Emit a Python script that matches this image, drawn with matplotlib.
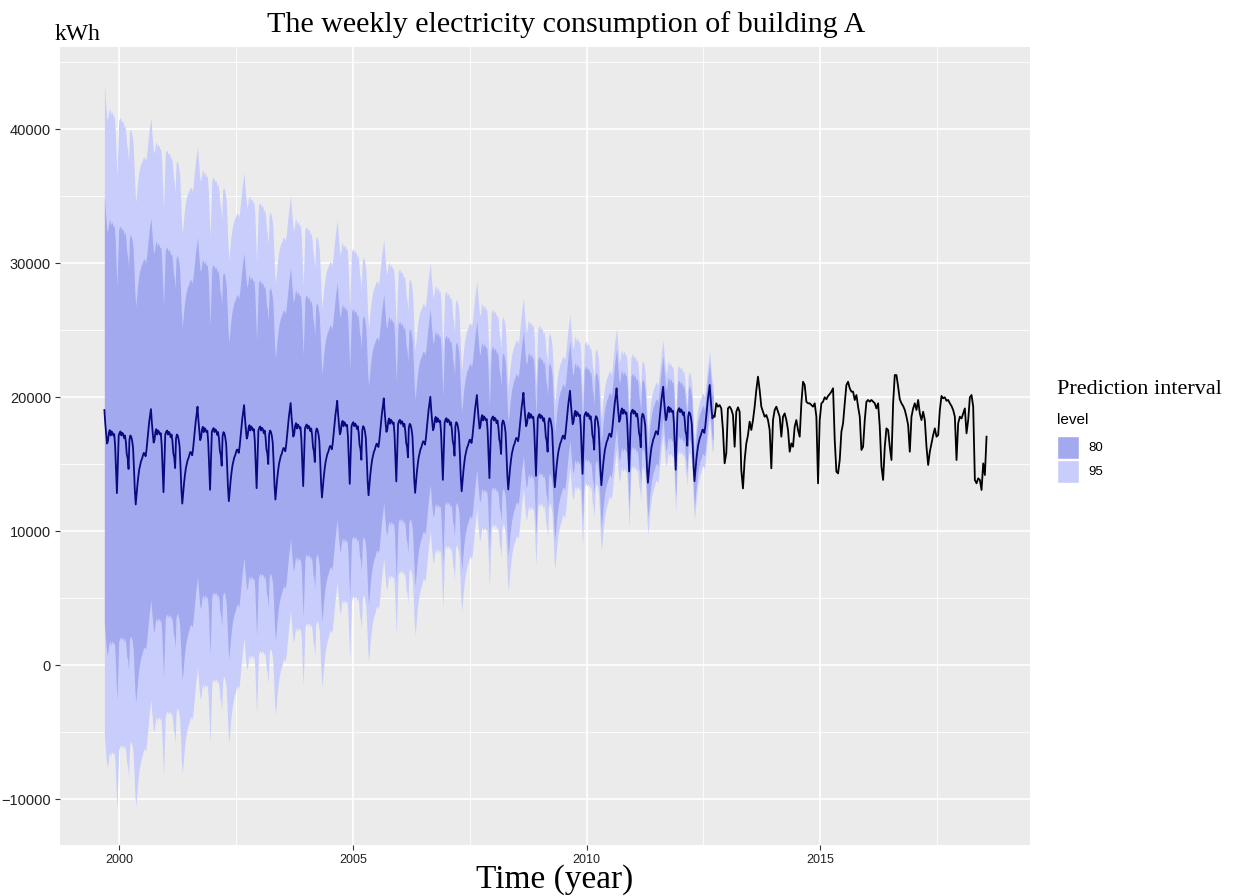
import numpy as np
import matplotlib.pyplot as plt
from matplotlib.patches import Rectangle

plt.rcParams['font.family'] = ['Liberation Sans', 'DejaVu Sans']
SERIF = ['Liberation Serif', 'DejaVu Serif']

# backcast: weekly seasonal shape of one year, kWh relative to the cycle's peak week
season_rel = [0, -1000, -1800, -2500, -2300, -1700, -1500, -1900, -1600, -1700,
              -1900, -1800, -2700, -4500, -6200, -4000, -1900, -1700, -1600, -1900,
              -1700, -1800, -2100, -1900, -2400, -3300, -3600, -4400, -2200, -1900,
              -2000, -2300, -2800, -4300, -6000, -7050, -6300, -5500, -4900, -4400,
              -4100, -3800, -3650, -3400, -3200, -3250, -3450, -3000, -2300, -1600,
              -900, -400]
# peak week level of each yearly cycle (kWh), 1999.7 -> 2012.7
cycle_peak = [19030, 19100, 19280, 19400, 19550, 19720, 19900,
              20020, 20150, 20320, 20470, 20650, 20770, 20900]
fc_start = 1999.68
fc_weeks = 681

# half-width of the prediction intervals (kWh)
w_year = [1999.68, 2000.64, 2001.64, 2002.64, 2003.60, 2004.60, 2005.60,
          2006.65, 2007.65, 2008.65, 2009.65, 2010.65, 2011.65, 2012.71]
w95 = [24300, 21800, 19500, 17400, 15600, 13600, 12000,
       10000, 8500, 7100, 5700, 4500, 3500, 2500]
w80 = [15900, 14300, 12700, 11400, 10200, 8900, 7850,
       6550, 5550, 4650, 3700, 2950, 2300, 1650]

# observed weekly consumption (kWh), roughly every second week
obs_start, obs_end = 2012.74, 2018.56
observed = [18530, 19530, 19280, 19400, 19150, 17540, 15050, 15800, 19150, 19280,
            19080, 18660, 16290, 18900, 19230, 18900, 14550, 13180, 15300, 16540,
            17160, 18160, 17540, 18280, 19280, 20520, 21520, 20520, 19280, 18900,
            18530, 18660, 18280, 17540, 14680, 18280, 19030, 19280, 18900, 18530,
            17040, 18530, 18780, 18280, 17540, 15920, 16540, 16290, 17790, 18280,
            17540, 17040, 19530, 21140, 20900, 19650, 19530, 19530, 19400, 19280,
            19530, 18530, 13560, 18280, 19530, 19650, 19980, 19830, 20080, 20220,
            20400, 20650, 16790, 14430, 14300, 15300, 17410, 18040, 19530, 20900,
            21140, 20650, 20400, 20400, 19780, 20150, 19280, 18530, 16050, 16290,
            18280, 19650, 19780, 19650, 19780, 19650, 19530, 19150, 19530, 17790,
            14800, 13810, 16290, 17660, 17540, 16290, 15300, 19530, 21640, 21640,
            20770, 19830, 19530, 19330, 19030, 18530, 17910, 15920, 18530, 19150,
            19530, 19030, 19780, 18780, 18280, 18900, 18280, 16290, 14930, 15920,
            16540, 17160, 17660, 17040, 17160, 19030, 20080, 19900, 19980, 19720,
            19780, 19530, 19330, 19030, 18530, 15300, 18040, 18530, 18400, 18780,
            19150, 17290, 18280, 19980, 20150, 19280, 13810, 13560, 13930, 13810,
            13060, 15050, 14180, 17040]

level_names = ['80', '95']
level_colors = ['#a3a9ee', '#c8cdfb']

weeks = np.arange(fc_weeks)
t_fc = fc_start + weeks / 52.18
fc = np.array(cycle_peak)[weeks // 52] + np.array(season_rel)[weeks % 52]
h95 = np.interp(t_fc, w_year, w95)
h80 = np.interp(t_fc, w_year, w80)
t_obs = np.linspace(obs_start, obs_end, len(observed))

fig = plt.figure(figsize=(12.33, 8.96), dpi=100)
ax = fig.add_axes([60 / 1233, 1 - 845 / 896, 970 / 1233, 798 / 896])
ax.set_facecolor('#ebebeb')
for s in ax.spines.values():
    s.set_visible(False)

ax.fill_between(t_fc, fc - h95, fc + h95, color=level_colors[1], lw=0, zorder=2)
ax.fill_between(t_fc, fc - h80, fc + h80, color=level_colors[0], lw=0, zorder=3)
ax.plot(t_fc, fc, color='#0a0a80', lw=1.3, zorder=4)
ax.plot(t_obs, observed, color='black', lw=1.3, zorder=4)

ax.set_xlim(1998.73, 2019.49)
ax.set_ylim(-13430, 46120)
ax.set_xticks([2000, 2005, 2010, 2015])
ax.set_xticks([2002.5, 2007.5, 2012.5, 2017.5], minor=True)
ax.set_yticks(np.arange(-10000, 40001, 10000))
ax.set_yticks(np.arange(-5000, 45001, 10000), minor=True)
ax.grid(which='major', color='white', lw=1.2, zorder=0)
ax.grid(which='minor', color='white', lw=0.6, zorder=0)
ax.set_axisbelow(True)
ax.tick_params(which='major', length=3.5, width=0.8, color='#333333',
               labelcolor='#222222')
ax.tick_params(which='minor', length=0)
ax.tick_params(axis='y', labelsize=10.5, pad=3)
ax.tick_params(axis='x', labelsize=9, pad=3)

fig.text(566 / 1233, 1 - 25 / 896, 'The weekly electricity consumption of building A',
         ha='center', va='center', fontsize=21.6, family=SERIF)
fig.text(55 / 1233, 1 - 34 / 896, 'kWh', ha='left', va='center', fontsize=17,
         family=SERIF)
fig.text(555 / 1233, 1 - 880 / 896, 'Time (year)', ha='center', va='center',
         fontsize=24, family=SERIF)

# legend, drawn by hand in figure pixels
W, H = 1233, 896
fig.text(1057 / W, 1 - 389 / H, 'Prediction interval', ha='left', va='center',
         fontsize=16, family=SERIF)
fig.text(1057 / W, 1 - 420 / H, 'level', ha='left', va='center', fontsize=11)
for i, (name, col) in enumerate(zip(level_names, level_colors)):
    top = 436 + 24 * i
    fig.add_artist(Rectangle((1057 / W, 1 - (top + 23) / H), 22 / W, 23 / H,
                             transform=fig.transFigure, facecolor=col,
                             edgecolor='white', lw=1))
    fig.text(1088 / W, 1 - (top + 12) / H, name, ha='left', va='center',
             fontsize=9.5)

fig.savefig('out.png', dpi=100, facecolor='white')
